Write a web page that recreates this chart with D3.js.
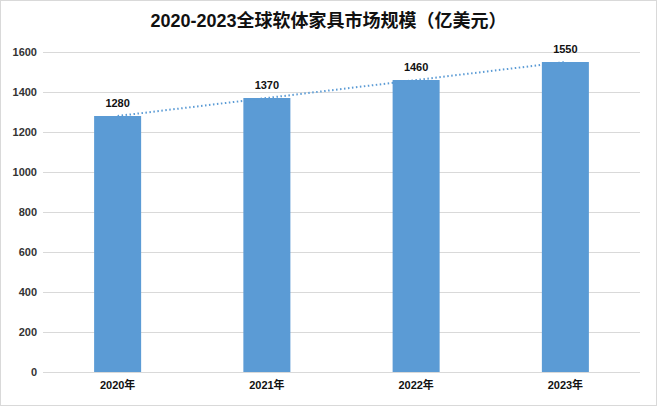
<!DOCTYPE html>
<html><head><meta charset="utf-8">
<script src="https://cdn.jsdelivr.net/npm/d3@7"></script>
<style>body{margin:0;background:#fff}svg{display:block}</style>
</head><body>
<svg id="c" width="657" height="406"></svg>
<script>
const title = "2020-2023全球软体家具市场规模（亿美元）";
const categories = ["2020年","2021年","2022年","2023年"];
const values = [1280,1370,1460,1550];
const yTicks = [0,200,400,600,800,1000,1200,1400,1600];

const svg = d3.select("#c");
const W=657,H=406;
const m={l:43,r:17,t:52,b:34};
const font="'Liberation Sans','Noto Sans CJK SC',sans-serif";
svg.append("rect").attr("x",0.5).attr("y",0.5).attr("width",W-1).attr("height",H-1)
  .attr("fill","#fff").attr("stroke","#d9d9d9");
const x=d3.scaleBand().domain(categories).range([m.l,W-m.r]).paddingInner(0.685).paddingOuter(0.3425);
const y=d3.scaleLinear().domain([0,1600]).range([H-m.b,m.t]);

// gridlines
svg.append("g").selectAll("line").data(yTicks).join("line")
  .attr("x1",m.l).attr("x2",W-m.r).attr("y1",d=>y(d)+0.5).attr("y2",d=>y(d)+0.5)
  .attr("stroke","#d9d9d9").attr("stroke-width",1);

// y axis labels
const ya=svg.append("g").attr("transform",`translate(${m.l-6},0)`)
  .call(d3.axisLeft(y).tickValues(yTicks).tickFormat(d3.format("d")).tickSize(0).tickPadding(0));
ya.select(".domain").remove();
ya.selectAll("text").attr("font-family",font).attr("font-size",11).attr("font-weight","bold").attr("fill","#333");

// bars
svg.append("g").selectAll("rect").data(values).join("rect")
  .attr("x",(d,i)=>x(categories[i])).attr("width",x.bandwidth())
  .attr("y",d=>y(d)).attr("height",d=>y(0)-y(d)).attr("fill","#5b9bd5");

// x axis
const xa=svg.append("g").attr("transform",`translate(0,${y(0)})`)
  .call(d3.axisBottom(x).tickSize(0).tickPadding(9));
xa.select(".domain").remove();
xa.selectAll("text").attr("font-family",font).attr("font-size",11).attr("font-weight","bold").attr("fill","#111");

// trendline (linear fit)
const n=values.length, xs=d3.range(n);
const mx=d3.mean(xs), my=d3.mean(values);
const slope=d3.sum(xs.map((v,i)=>(v-mx)*(values[i]-my)))/d3.sum(xs.map(v=>(v-mx)*(v-mx)));
const icpt=my-slope*mx;
const cx=i=>x(categories[i])+x.bandwidth()/2;
svg.append("line").attr("x1",cx(0)).attr("x2",cx(n-1))
  .attr("y1",y(icpt)).attr("y2",y(icpt+slope*(n-1)))
  .attr("stroke","#5b9bd5").attr("stroke-width",2).attr("stroke-dasharray","1.5,2.5");

// value labels
svg.append("g").selectAll("text").data(values).join("text")
  .attr("x",(d,i)=>cx(i)).attr("y",d=>y(d)-9).attr("text-anchor","middle")
  .attr("font-family",font).attr("font-size",11).attr("font-weight","bold").attr("fill","#111")
  .text(d=>d);

// title
svg.append("text").attr("x",W/2).attr("y",27).attr("text-anchor","middle")
  .attr("font-family",font).attr("font-size",18).attr("font-weight","bold").attr("fill","#111")
  .text(title);
</script>
</body></html>
